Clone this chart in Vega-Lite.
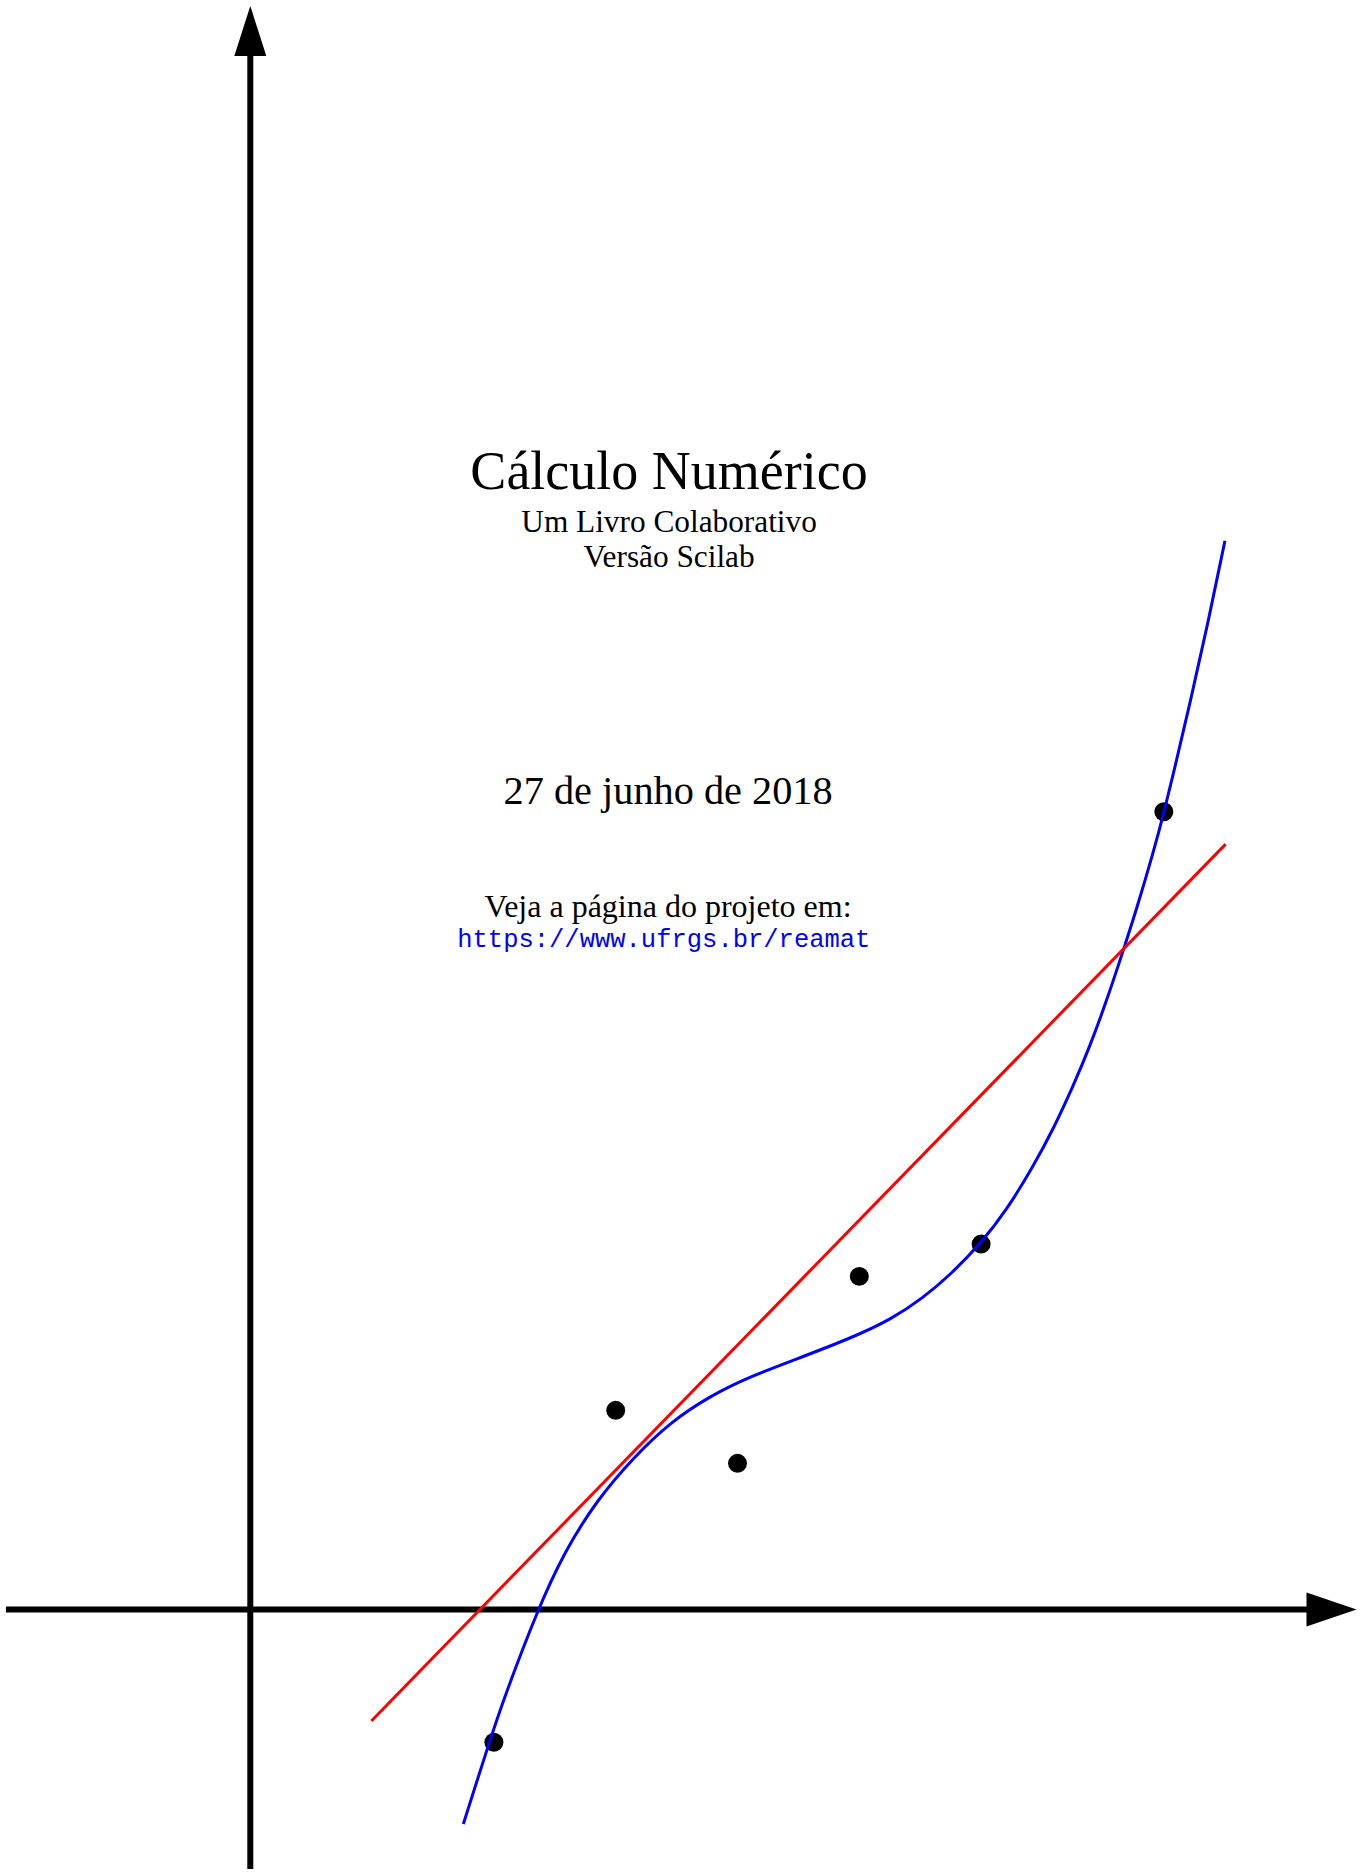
{
  "$schema": "https://vega.github.io/schema/vega-lite/v6.json",
  "width": 1361,
  "height": 1872,
  "autosize": {"type": "fit", "contains": "padding"},
  "padding": 0,
  "background": "white",
  "config": {"view": {"stroke": null}},
  "datasets": {
    "axes": [
      {"x": -2.006, "y": 0, "x2": 8.75, "y2": 0},
      {"x": 0, "y": -2.13, "x2": 0, "y2": 12.85}
    ],
    "arrows": [
      {"x": 8.877, "y": 0, "dir": "right"},
      {"x": 0, "y": 12.96, "dir": "up"}
    ],
    "points": [
      {"x": 2, "y": -1.09},
      {"x": 3, "y": 1.635},
      {"x": 4, "y": 1.2},
      {"x": 5, "y": 2.735},
      {"x": 6, "y": 3.0},
      {"x": 7.5, "y": 6.55}
    ],
    "cubic": [
      {"x": 1.749, "y": -1.761},
      {"x": 1.962, "y": -1.09},
      {"x": 2.077, "y": -0.743},
      {"x": 2.36, "y": 0},
      {"x": 2.577, "y": 0.47},
      {"x": 2.846, "y": 0.9},
      {"x": 3.148, "y": 1.25},
      {"x": 3.45, "y": 1.54},
      {"x": 3.785, "y": 1.76},
      {"x": 4.121, "y": 1.92},
      {"x": 4.456, "y": 2.045},
      {"x": 4.925, "y": 2.225},
      {"x": 5.26, "y": 2.38},
      {"x": 5.525, "y": 2.56},
      {"x": 5.745, "y": 2.745},
      {"x": 6.002, "y": 3.01},
      {"x": 6.21, "y": 3.28},
      {"x": 6.429, "y": 3.64},
      {"x": 6.593, "y": 3.945},
      {"x": 6.757, "y": 4.3},
      {"x": 6.894, "y": 4.625},
      {"x": 7.031, "y": 5.0},
      {"x": 7.154, "y": 5.37},
      {"x": 7.278, "y": 5.755},
      {"x": 7.414, "y": 6.215},
      {"x": 7.504, "y": 6.555},
      {"x": 7.578, "y": 6.86},
      {"x": 7.715, "y": 7.44},
      {"x": 7.852, "y": 8.05},
      {"x": 8.002, "y": 8.775}
    ],
    "linear": [
      {"x": 0.994, "y": -0.915},
      {"x": 8.008, "y": 6.284}
    ],
    "texts": [
      {"kind": "title", "x": 3.438, "y": 9.197, "label": "Cálculo Numérico"},
      {"kind": "sub", "x": 3.438, "y": 8.849, "label": "Um Livro Colaborativo"},
      {"kind": "sub", "x": 3.438, "y": 8.557, "label": "Versão Scilab"},
      {"kind": "date", "x": 3.43, "y": 6.611, "label": "27 de junho de 2018"},
      {"kind": "note", "x": 3.43, "y": 5.688, "label": "Veja a página do projeto em:"},
      {"kind": "url", "x": 3.395, "y": 5.443, "label": "https://www.ufrgs.br/reamat"}
    ]
  },
  "encoding": {
    "x": {"field": "x", "type": "quantitative", "axis": null, "scale": {"domain": [-2.055, 9.119], "nice": false, "zero": false}},
    "y": {"field": "y", "type": "quantitative", "axis": null, "scale": {"domain": [-2.1552, 13.2143], "nice": false, "zero": false}}
  },
  "layer": [
    {
      "data": {"name": "axes"},
      "mark": {"type": "rule", "color": "black", "strokeWidth": 6},
      "encoding": {
        "x2": {"field": "x2"},
        "y2": {"field": "y2"}
      }
    },
    {
      "data": {"name": "arrows"},
      "mark": {"type": "point", "filled": true, "color": "black", "opacity": 1, "size": 2500, "strokeWidth": 0},
      "encoding": {
        "shape": {"field": "dir", "type": "nominal", "legend": null,
          "scale": {"domain": ["right", "up"], "range": ["M -1 -0.68 L 1 0 L -1 0.68 Z", "M -0.64 1 L 0 -1 L 0.64 1 Z"]}}
      }
    },
    {
      "data": {"name": "points"},
      "mark": {"type": "circle", "color": "black", "opacity": 1, "size": 360}
    },
    {
      "data": {"name": "cubic"},
      "mark": {"type": "line", "color": "#0000ff", "strokeWidth": 3, "interpolate": "basis"}
    },
    {
      "data": {"name": "linear"},
      "mark": {"type": "line", "color": "#ff0000", "strokeWidth": 3}
    },
    {
      "data": {"name": "texts"},
      "transform": [{"filter": "datum.kind === 'title'"}],
      "mark": {"type": "text", "font": "Liberation Serif", "fontSize": 54, "align": "center", "baseline": "alphabetic", "color": "black"},
      "encoding": {"text": {"field": "label"}}
    },
    {
      "data": {"name": "texts"},
      "transform": [{"filter": "datum.kind === 'sub'"}],
      "mark": {"type": "text", "font": "Liberation Serif", "fontSize": 31.3, "align": "center", "baseline": "alphabetic", "color": "black"},
      "encoding": {"text": {"field": "label"}}
    },
    {
      "data": {"name": "texts"},
      "transform": [{"filter": "datum.kind === 'note'"}],
      "mark": {"type": "text", "font": "Liberation Serif", "fontSize": 32, "align": "center", "baseline": "alphabetic", "color": "black"},
      "encoding": {"text": {"field": "label"}}
    },
    {
      "data": {"name": "texts"},
      "transform": [{"filter": "datum.kind === 'date'"}],
      "mark": {"type": "text", "font": "Liberation Serif", "fontSize": 40.3, "align": "center", "baseline": "alphabetic", "color": "black"},
      "encoding": {"text": {"field": "label"}}
    },
    {
      "data": {"name": "texts"},
      "transform": [{"filter": "datum.kind === 'url'"}],
      "mark": {"type": "text", "font": "Liberation Mono", "fontSize": 25.5, "align": "center", "baseline": "alphabetic", "color": "#0000ff"},
      "encoding": {"text": {"field": "label"}}
    }
  ]
}
